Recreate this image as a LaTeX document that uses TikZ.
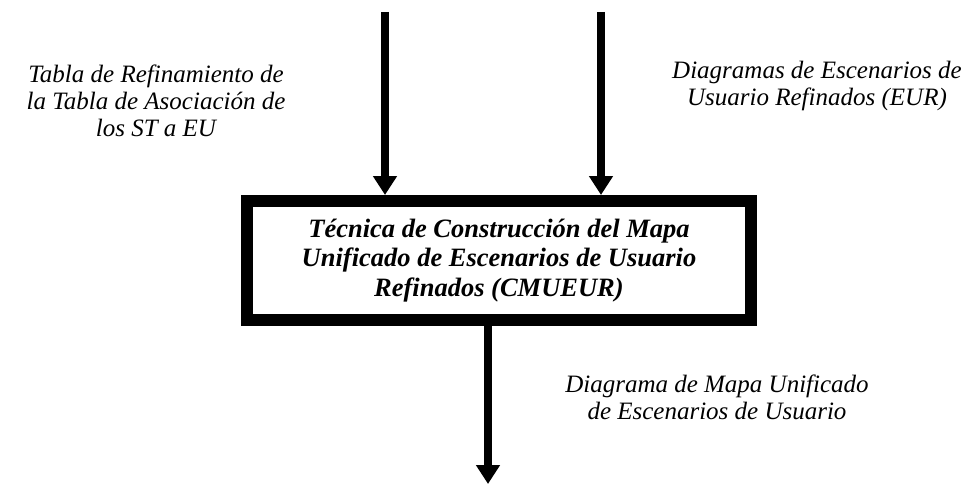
\documentclass[tikz,border=0pt]{standalone}
\usepackage{fontspec}
\setmainfont{Liberation Serif}
\usetikzlibrary{calc,arrows.meta}

\begin{document}
\begin{tikzpicture}[x=1pt,y=-1pt,
    flecha/.style={line width=8.5pt, -{Triangle[width=23pt,length=19pt]}},
    etiqueta/.style={align=center, font=\fontsize{25}{27}\selectfont\itshape},
    tecnica/.style={draw, line width=12pt, minimum width=504pt, minimum height=119pt,
        align=center, font=\fontsize{26.5}{29.5}\selectfont\bfseries\itshape}]
    \useasboundingbox (0,0) rectangle (968,484);
    % caja central
    \node[tecnica](T)at(499,260.5){T\'ecnica de Construcci\'on del Mapa\\Unificado de Escenarios de Usuario\\Refinados (CMUEUR)};
    % entradas
    \coordinate(E1)at(385,12);
    \coordinate(E2)at(601,12);
    \coordinate(S)at(488,484);
    \path[draw, flecha](E1)to(E1 |- T.north);
    \path[draw, flecha](E2)to(E2 |- T.north);
    % salida
    \path[draw, flecha](S |- T.south)to(S);
    % textos
    \node[etiqueta](tabla)at(156,101){Tabla de Refinamiento de\\la Tabla de Asociaci\'on de\\los ST a EU};
    \node[etiqueta](eur)at(817,86){Diagramas de Escenarios de\\Usuario Refinados (EUR)};
    \node[etiqueta](mapa)at(717,397){Diagrama de Mapa Unificado\\de Escenarios de Usuario};
\end{tikzpicture}
\end{document}
